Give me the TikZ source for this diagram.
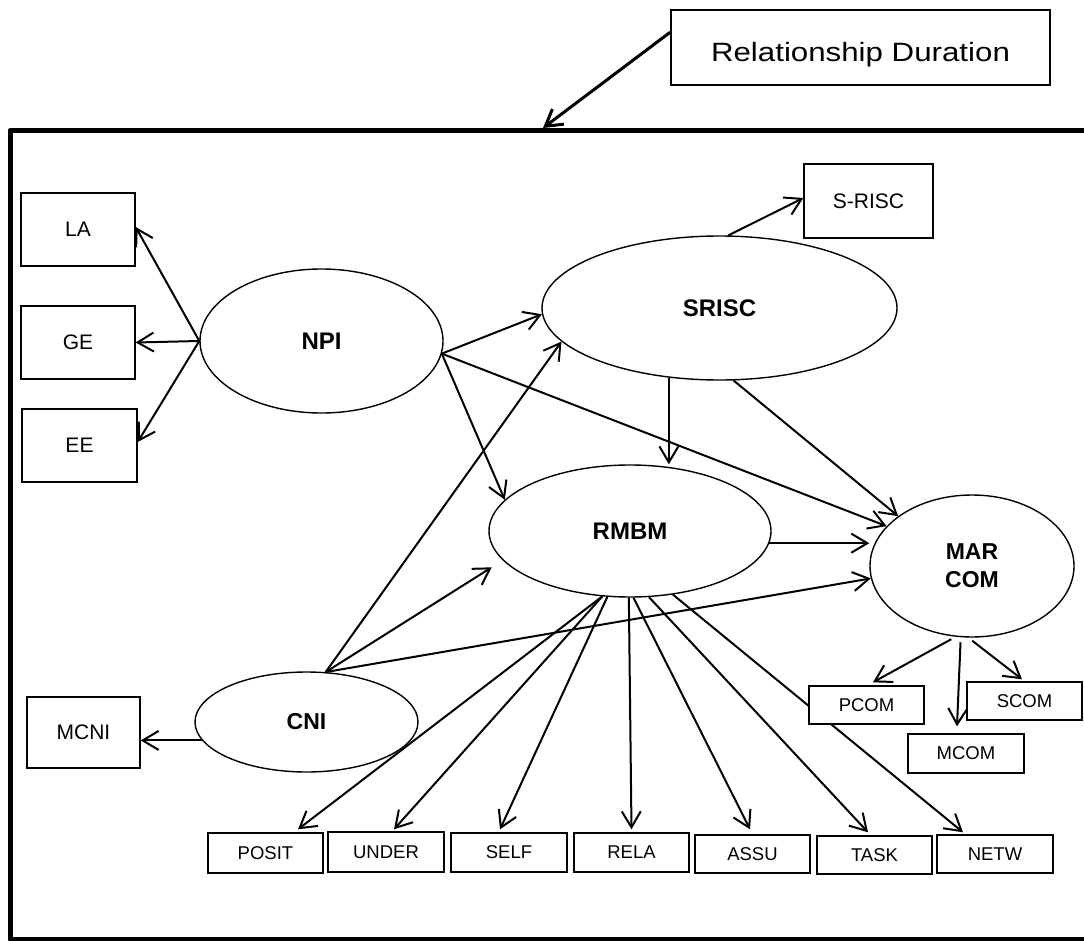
\documentclass[tikz,border=0pt]{standalone}
\usepackage{fontspec}
\setmainfont{Liberation Sans}
\usetikzlibrary{arrows.meta,shapes.geometric,calc}
\pgfdeclarelayer{bg}
\pgfsetlayers{bg,main}
\begin{document}
\begin{tikzpicture}[x=1pt,y=-1pt,
  conn/.style={line width=2pt,-{Straight Barb[length=16pt,width=19pt]}},
  bigbox/.style={draw,fill=white,line width=1.4pt,inner sep=0pt,minimum width=114pt,minimum height=73pt,font=\fontsize{21}{24}\selectfont},
  smallbox/.style={draw,fill=white,line width=1.4pt,inner sep=0pt,minimum width=115pt,minimum height=39pt,font=\fontsize{18.5}{22}\selectfont},
  latent/.style={draw,ellipse,line width=1.4pt,inner sep=0pt,font=\bfseries\fontsize{24}{28}\selectfont}]
\clip (0,0) rectangle (1084,941);
% title box
\node[draw,fill=white,line width=1.5pt,inner sep=0pt,minimum width=379pt,minimum height=75pt,
      text height=29pt,text depth=0pt,font=\fontsize{26.5}{30}\selectfont] (RD) at (860.5,47.5)
      {\scalebox{1.18}[1]{Relationship Duration}};
\coordinate (rdTip) at (543,128);
% latent variables
\node[latent,minimum width=243pt,minimum height=144pt] (NPI) at (321.5,341) {NPI};
\node[latent,minimum width=355pt,minimum height=144pt] (SRISC) at (719.5,308) {SRISC};
\node[latent,minimum width=282pt,minimum height=132pt] (RMBM) at (630,531) {RMBM};
\node[latent,minimum width=204pt,minimum height=142pt,align=center,font=\bfseries\fontsize{23}{28}\selectfont] (MARCOM) at (972,566) {MAR\\COM};
\node[latent,minimum width=223pt,minimum height=100pt,font=\bfseries\fontsize{23}{28}\selectfont] (CNI) at (306.5,722) {CNI};
% indicators
\node[bigbox] (LA) at (78,229.5) {LA};
\node[bigbox] (GE) at (78,342.5) {GE};
\node[bigbox,minimum width=115pt] (EE) at (79.5,445.5) {EE};
\node[bigbox,minimum width=129pt,minimum height=74pt] (SRISCbox) at (868.5,201) {S-RISC};
\node[bigbox,minimum width=113pt,minimum height=71pt] (MCNI) at (83.5,732.5) {MCNI};
\node[smallbox,minimum height=40pt] (POSIT) at (265.5,853) {POSIT};
\node[smallbox,minimum width=116pt,minimum height=40pt] (UNDER) at (386,852) {UNDER};
\node[smallbox,minimum width=116pt] (SELF) at (509,852.5) {SELF};
\node[smallbox] (RELA) at (631.5,852.5) {RELA};
\node[smallbox,minimum height=38pt] (ASSU) at (752.5,854) {ASSU};
\node[smallbox,minimum height=38pt] (TASK) at (874.5,855) {TASK};
\node[smallbox,minimum width=116pt,minimum height=38pt] (NETW) at (995,854) {NETW};
\node[smallbox,minimum height=38pt] (PCOM) at (866.5,705) {PCOM};
\node[smallbox,minimum height=38pt] (SCOM) at (1024.5,701) {SCOM};
\node[smallbox,minimum width=116pt] (MCOM) at (966,753.5) {MCOM};
\begin{pgfonlayer}{bg}
% frame
\draw[line width=5pt,line join=round] (1100,130.5) -- (10,130.5) -- (10,939) -- (1100,939);
\draw[conn,line width=3pt] ($(RD.north west)!0.3!(RD.south west)$) -- (rdTip);
% NPI
\draw[conn] (NPI.west) -- ([yshift=2.5pt]LA.east);
\draw[conn] (NPI.west) -- (GE.east);
\draw[conn] (NPI.west) -- ([yshift=3.5pt]EE.east);
\draw[conn] (NPI.-6) -- (SRISC.182);
\draw[conn] (NPI.-6) -- (RMBM.166);
\draw[conn] (NPI.-6) -- (MARCOM.155);
% SRISC
\draw[conn] (SRISC.83.4) -- ([yshift=3pt]SRISCbox.west);
\draw[conn] (SRISC.-126) -- (SRISC.-126 |- RMBM.north);
\draw[conn] (SRISC.-79) -- (MARCOM.146);
% RMBM
\draw[conn] (RMBM.-5.4) -- (RMBM.-5.4 -| MARCOM.west);
\draw[conn] (RMBM.-113.4) -- ([xshift=32.5pt,yshift=3pt]POSIT.north);
\draw[conn] (RMBM.-113.4) -- ([xshift=8pt,yshift=2pt]UNDER.north);
\draw[conn] (RMBM.-109.5) -- ([xshift=-9pt,yshift=3pt]SELF.north);
\draw[conn] (RMBM.-91.7) -- ([yshift=3pt]RELA.north);
\draw[conn] (RMBM.-87.4) -- ([xshift=-2.5pt,yshift=5pt]ASSU.north);
\draw[conn] (RMBM.-74.6) -- ([xshift=-6.5pt,yshift=3pt]TASK.north);
\draw[conn] (RMBM.-56.3) -- ([xshift=-32pt,yshift=2pt]NETW.north);
% CNI
\draw[conn] (CNI.69) -- (SRISC.192.5);
\draw[conn,shorten >=13pt] (CNI.69) -- (RMBM.193.5);
\draw[conn] (CNI.69) -- (MARCOM.187.5);
\draw[conn] (CNI.190.5) -- (CNI.190.5 -| MCNI.east);
% MARCOM
\draw[conn,shorten <=5pt] (MARCOM.-103.6) -- ([xshift=6.5pt,yshift=3pt]PCOM.north);
\draw[conn,shorten <=5pt] (MARCOM.-99.7) -- ([xshift=-9pt,yshift=7pt]MCOM.north);
\draw[conn,shorten <=5pt] (MARCOM.-93.2) -- ([xshift=-2.5pt,yshift=2pt]SCOM.north);
\end{pgfonlayer}
\end{tikzpicture}
\end{document}
